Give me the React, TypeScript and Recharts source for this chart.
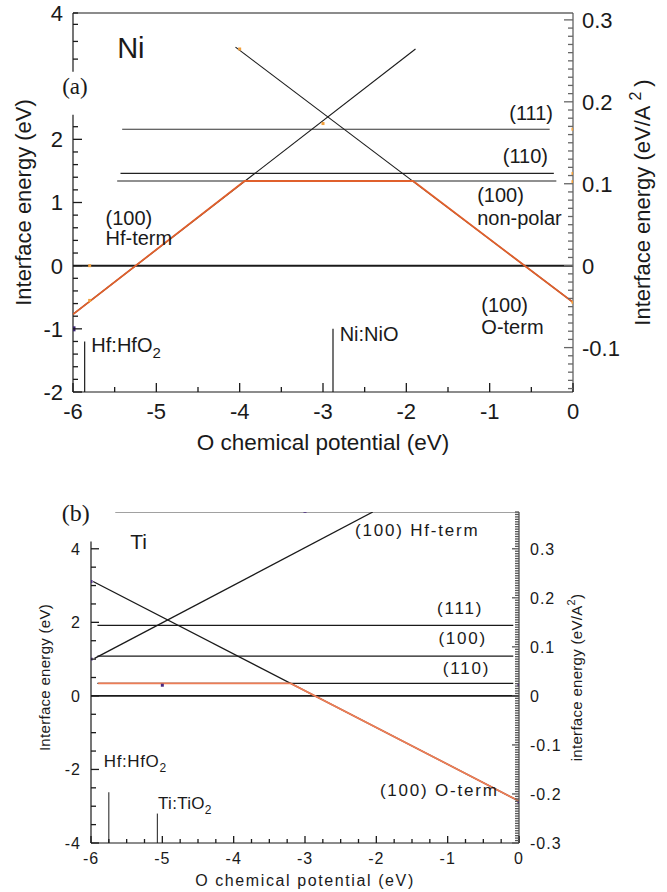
import React from 'react'
import {
  ComposedChart,
  Line,
  Scatter,
  XAxis,
  YAxis,
  ReferenceLine,
  ReferenceDot,
  Label,
} from 'recharts'

const SANS = '"Liberation Sans", Arial, Helvetica, sans-serif'
const SERIF = '"Liberation Serif", "Times New Roman", serif'
const INK = '#1a1a1a'
const ORANGE = '#e0602c'

type Pt = { mu: number; e: number }

// ---- panel (a): Ni ----
const ni111: Pt[] = [{ mu: -5.41, e: 2.16 }, { mu: -0.28, e: 2.16 }]
const ni110: Pt[] = [{ mu: -5.43, e: 1.46 }, { mu: -0.23, e: 1.46 }]
const ni100NonPolar: Pt[] = [{ mu: -5.47, e: 1.34 }, { mu: -0.2, e: 1.34 }]
const niZero: Pt[] = [{ mu: -6, e: 0 }, { mu: 0, e: 0 }]
const niHfTerm: Pt[] = [{ mu: -6, e: -0.77 }, { mu: -1.89, e: 3.43 }]
const niOTerm: Pt[] = [{ mu: -4.05, e: 3.46 }, { mu: 0, e: -0.58 }]
const niStable: Pt[] = [
  { mu: -6, e: -0.77 },
  { mu: -3.94, e: 1.34 },
  { mu: -1.92, e: 1.34 },
  { mu: 0, e: -0.58 },
]
const niHfLimit: Pt[] = [{ mu: -5.86, e: -2 }, { mu: -5.86, e: -1.2 }]
const niNiLimit: Pt[] = [{ mu: -2.88, e: -2 }, { mu: -2.88, e: -1.0 }]
const niDots: Pt[] = [
  { mu: -4.0, e: 3.43 },
  { mu: -3.0, e: 2.25 },
  { mu: -5.8, e: 0 },
  { mu: -5.8, e: -0.55 },
  { mu: 0, e: 2.16 },
  { mu: 0, e: 1.46 },
  { mu: 0, e: 1.33 },
  { mu: 0, e: -0.58 },
]
const niDarkDots: Pt[] = [{ mu: -6, e: -1.0 }]

// ---- panel (b): Ti ----
const tiTop: Pt[] = [{ mu: -5.66, e: 5 }, { mu: 0, e: 5 }]
const ti111: Pt[] = [{ mu: -5.91, e: 1.92 }, { mu: -0.08, e: 1.92 }]
const ti100: Pt[] = [{ mu: -5.91, e: 1.08 }, { mu: -0.08, e: 1.08 }]
const ti110: Pt[] = [{ mu: -5.91, e: 0.34 }, { mu: -0.08, e: 0.34 }]
const tiZero: Pt[] = [{ mu: -6, e: 0 }, { mu: 0, e: 0 }]
const tiHfTerm: Pt[] = [{ mu: -5.95, e: 1.02 }, { mu: -2.05, e: 5.0 }]
const tiOTerm: Pt[] = [{ mu: -5.97, e: 3.11 }, { mu: 0, e: -2.86 }]
const tiStable: Pt[] = [
  { mu: -5.9, e: 0.34 },
  { mu: -3.2, e: 0.34 },
  { mu: 0, e: -2.86 },
]
const tiHfLimit: Pt[] = [{ mu: -5.75, e: -4 }, { mu: -5.75, e: -2.62 }]
const tiTiLimit: Pt[] = [{ mu: -5.07, e: -4 }, { mu: -5.07, e: -3.2 }]
const tiDots: Pt[] = [
  { mu: -6, e: 3.11 },
  { mu: -6, e: 1.0 },
  { mu: -5, e: 0.29 },
  { mu: 0, e: 0.3 },
  { mu: 0, e: -2.9 },
  { mu: -3, e: 5.02 },
]

// tick helpers
const steps = (from: number, to: number, step: number) => {
  const out: number[] = []
  const n = Math.round((to - from) / step)
  for (let i = 0; i <= n; i++) out.push(Math.round((from + i * step) * 10000) / 10000)
  return out
}
const near = (v: number, step: number) => Math.abs(v / step - Math.round(v / step)) < 1e-6

const niMuTicks = steps(-6, 0, 0.5)
const niETicks = [...steps(-2, 2.2, 0.2), 3.27, 3.55, 3.82]
const niELabels = [-2, -1, 0, 1, 2]
const niRightTicks = steps(-0.15, 0.3, 0.01)

const tiMuTicks = steps(-6, 0, 0.25)
const tiETicks = steps(-4, 4, 0.5)
const tiRightTicks = steps(-0.3, 0.375, 0.005)

type TickCfg = {
  side: 'left' | 'right' | 'bottom'
  gap: number
  size: number
  major: number
  minor: number
  isMajor: (v: number) => boolean
  hasLabel: (v: number) => boolean
  spacing?: number
  color?: string
}

// inward tick marks + label, drawn by hand since recharts only draws outward ticks
function makeTick(c: TickCfg) {
  return (props: any) => {
    const x = Number(props.x)
    const y = Number(props.y)
    const v = Number(props.payload.value)
    const len = c.isMajor(v) ? c.major : c.minor
    const label = c.hasLabel(v) ? String(v) : null
    const txt = {
      fontSize: c.size,
      fontFamily: SANS,
      fill: INK,
      letterSpacing: c.spacing || 0,
    }
    let x1 = x
    let x2 = x
    let y1 = y
    let y2 = y
    let anchor = 'middle'
    let dy = '0.36em'
    if (c.side === 'left') {
      x1 = x + c.gap
      x2 = x1 + len
      anchor = 'end'
    } else if (c.side === 'right') {
      x1 = x - c.gap
      x2 = x1 - len
      anchor = 'start'
    } else {
      y1 = y - c.gap
      y2 = y1 - len
      dy = '0.72em'
    }
    return (
      <g>
        <path d={`M${x1},${y1}L${x2},${y2}`} stroke={c.color || INK} strokeWidth={1.3} fill="none" />
        {label && (
          <text x={x} y={y} dy={dy} textAnchor={anchor} {...txt}>
            {label}
          </text>
        )}
      </g>
    )
  }
}

const note =
  (content: React.ReactNode, size: number, extra: any = {}) =>
  (p: any) => (
    <text x={p.cx} y={p.cy} fontSize={size} fontFamily={SANS} fill={INK} {...extra}>
      {content}
    </text>
  )

const vTitle =
  (content: React.ReactNode, size: number, dx: number, spacing = 0) =>
  (props: any) => {
    const vb = props.viewBox || { x: 0, y: 0, width: 0, height: 0 }
    const cx = vb.x + dx
    const cy = vb.y + vb.height / 2
    return (
      <text
        x={cx}
        y={cy}
        transform={`rotate(-90, ${cx}, ${cy})`}
        textAnchor="middle"
        dy="0.36em"
        fontSize={size}
        fontFamily={SANS}
        fill={INK}
        letterSpacing={spacing}
      >
        {content}
      </text>
    )
  }

const hTitle =
  (content: string, size: number, dy: number, spacing = 0) =>
  (props: any) => {
    const vb = props.viewBox || { x: 0, y: 0, width: 0, height: 0 }
    return (
      <text
        x={vb.x + vb.width / 2}
        y={vb.y + dy}
        textAnchor="middle"
        fontSize={size}
        fontFamily={SANS}
        fill={INK}
        letterSpacing={spacing}
      >
        {content}
      </text>
    )
  }

const seg = (id: string, data: Pt[], color = INK, width = 1.2) => (
  <Line
    key={id}
    yAxisId="l"
    data={data}
    dataKey="e"
    type="linear"
    stroke={color}
    strokeWidth={width}
    dot={false}
    activeDot={false}
    isAnimationActive={false}
  />
)

const square = (color: string, s = 3) => (p: any) =>
  <rect x={p.cx - s / 2} y={p.cy - s / 2} width={s} height={s} fill={color} />

function NiPanel() {
  return (
    <ComposedChart width={667} height={470} margin={{ top: 13, right: 0, bottom: 0, left: 0 }}>
      <XAxis
        dataKey="mu"
        type="number"
        domain={[-6, 0]}
        allowDataOverflow
        ticks={niMuTicks}
        interval={0}
        height={78}
        tickSize={0}
        tickMargin={11}
        tickLine={false}
        axisLine={{ stroke: INK, strokeWidth: 1.2 }}
        tick={makeTick({
          side: 'bottom',
          gap: 11,
          size: 22,
          major: 9,
          minor: 5,
          isMajor: (v) => near(v, 1),
          hasLabel: (v) => near(v, 1),
        })}
      >
        <Label content={hTitle('O chemical potential (eV)', 22.5, 58)} />
      </XAxis>
      <YAxis
        yAxisId="l"
        type="number"
        domain={[-2, 4]}
        allowDataOverflow
        ticks={[...niETicks, 4]}
        interval={0}
        width={73}
        tickSize={0}
        tickMargin={10}
        tickLine={false}
        axisLine={false}
        tick={makeTick({
          side: 'left',
          gap: 10,
          size: 22,
          major: 9,
          minor: 5,
          isMajor: (v) => niELabels.includes(v),
          hasLabel: (v) => niELabels.includes(v) || v === 4,
        })}
      >
        <Label content={vTitle('Interface energy (eV)', 22, 23)} />
      </YAxis>
      <YAxis
        yAxisId="r"
        orientation="right"
        type="number"
        domain={[-2 / 12.97, 4 / 12.97]}
        allowDataOverflow
        ticks={niRightTicks}
        interval={0}
        width={94}
        tickSize={0}
        tickMargin={9}
        tickLine={false}
        axisLine={{ stroke: '#555', strokeWidth: 1.2 }}
        tick={makeTick({
          side: 'right',
          gap: 9,
          size: 22,
          major: 9,
          minor: 5,
          isMajor: (v) => near(v, 0.1),
          hasLabel: (v) => near(v, 0.1),
          color: '#666',
        })}
      >
        <Label
          content={vTitle(
            <>
              Interface energy (eV/A
              <tspan dx={5} dy={-9} fontSize={16}>
                2
              </tspan>
              <tspan dx={5} dy={9}>
                )
              </tspan>
            </>,
            22,
            69,
          )}
        />
      </YAxis>

      {/* frame: top edge and broken left axis */}
      <ReferenceLine yAxisId="l" y={4} stroke={INK} strokeWidth={1.2} ifOverflow="visible" />
      <ReferenceLine
        yAxisId="l"
        segment={[{ x: -6, y: -2 }, { x: -6, y: 2.39 }]}
        stroke={INK}
        strokeWidth={1.2}
        ifOverflow="visible"
      />
      <ReferenceLine
        yAxisId="l"
        segment={[{ x: -6, y: 3.07 }, { x: -6, y: 4 }]}
        stroke={INK}
        strokeWidth={1.2}
        ifOverflow="visible"
      />

      {seg('n111', ni111, '#333')}
      {seg('n110', ni110, '#222')}
      {seg('n100', ni100NonPolar, '#222')}
      {seg('nzero', niZero, INK, 2)}
      {seg('nhf', niHfTerm, INK, 1.1)}
      {seg('no', niOTerm, INK, 1.1)}
      {seg('nhfl', niHfLimit, INK, 1.2)}
      {seg('nnil', niNiLimit, INK, 1.2)}
      {seg('nstable', niStable, ORANGE, 1.8)}
      <Scatter yAxisId="l" data={niDots} dataKey="e" shape={square('#f2a03c')} isAnimationActive={false} />
      <Scatter yAxisId="l" data={niDarkDots} dataKey="e" shape={square('#3a2470', 5)} isAnimationActive={false} />

      <ReferenceDot yAxisId="l" x={-5.47} y={3.29} r={0} ifOverflow="visible" shape={note('Ni', 29)} />
      <ReferenceDot
        yAxisId="l"
        x={-6.13}
        y={2.71}
        r={0}
        ifOverflow="visible"
        shape={note('(a)', 23, { fontFamily: SERIF })}
      />
      <ReferenceDot yAxisId="l" x={-0.24} y={2.31} r={0} ifOverflow="visible" shape={note('(111)', 20, { textAnchor: 'end' })} />
      <ReferenceDot yAxisId="l" x={-0.3} y={1.63} r={0} ifOverflow="visible" shape={note('(110)', 20, { textAnchor: 'end' })} />
      <ReferenceDot yAxisId="l" x={-1.15} y={1.01} r={0} ifOverflow="visible" shape={note('(100)', 20)} />
      <ReferenceDot yAxisId="l" x={-1.15} y={0.65} r={0} ifOverflow="visible" shape={note('non-polar', 20)} />
      <ReferenceDot yAxisId="l" x={-5.61} y={0.65} r={0} ifOverflow="visible" shape={note('(100)', 20)} />
      <ReferenceDot yAxisId="l" x={-5.61} y={0.32} r={0} ifOverflow="visible" shape={note('Hf-term', 20)} />
      <ReferenceDot yAxisId="l" x={-1.1} y={-0.73} r={0} ifOverflow="visible" shape={note('(100)', 20)} />
      <ReferenceDot yAxisId="l" x={-1.1} y={-1.08} r={0} ifOverflow="visible" shape={note('O-term', 20)} />
      <ReferenceDot
        yAxisId="l"
        x={-5.78}
        y={-1.36}
        r={0}
        ifOverflow="visible"
        shape={note(
          <>
            Hf:HfO
            <tspan dy={6} fontSize={15}>
              2
            </tspan>
          </>,
          20,
        )}
      />
      <ReferenceDot yAxisId="l" x={-2.8} y={-1.2} r={0} ifOverflow="visible" shape={note('Ni:NiO', 20)} />
    </ComposedChart>
  )
}

function TiPanel() {
  const sp = 1.6
  const nsp = 1.8
  return (
    <ComposedChart width={667} height={442} margin={{ top: 62, right: 0, bottom: 0, left: 0 }}>
      <XAxis
        dataKey="mu"
        type="number"
        domain={[-6, 0]}
        allowDataOverflow
        ticks={tiMuTicks}
        interval={0}
        height={49}
        tickSize={0}
        tickMargin={9}
        tickLine={false}
        axisLine={{ stroke: INK, strokeWidth: 1.2 }}
        tick={makeTick({
          side: 'bottom',
          gap: 9,
          size: 16,
          major: 7,
          minor: 4,
          isMajor: (v) => near(v, 1),
          hasLabel: (v) => near(v, 1),
          spacing: 1,
        })}
      >
        <Label content={hTitle('O chemical potential (eV)', 16, 43, sp)} />
      </XAxis>
      <YAxis
        yAxisId="l"
        type="number"
        domain={[-4, 5]}
        allowDataOverflow
        ticks={tiETicks}
        interval={0}
        width={91}
        tickSize={0}
        tickMargin={10}
        tickLine={false}
        axisLine={false}
        tick={makeTick({
          side: 'left',
          gap: 10,
          size: 16,
          major: 8,
          minor: 5,
          isMajor: (v) => near(v, 2),
          hasLabel: (v) => near(v, 2),
          spacing: 1,
        })}
      >
        <Label content={vTitle('Interface energy (eV)', 15, 45, 0.3)} />
      </YAxis>
      <YAxis
        yAxisId="r"
        orientation="right"
        type="number"
        domain={[-0.3, 0.375]}
        allowDataOverflow
        ticks={tiRightTicks}
        interval={0}
        width={148}
        tickSize={0}
        tickMargin={11}
        tickLine={false}
        axisLine={{ stroke: '#444', strokeWidth: 1.2 }}
        tick={makeTick({
          side: 'right',
          gap: 11,
          size: 16,
          major: 7,
          minor: 4,
          isMajor: (v) => near(v, 0.1),
          hasLabel: (v) => near(v, 0.1) && v <= 0.3,
          spacing: 1,
          color: '#555',
        })}
      >
        <Label
          content={vTitle(
            <>
              interface energy (eV/A
              <tspan dy={-7} fontSize={11}>
                2
              </tspan>
              <tspan dy={7}>)</tspan>
            </>,
            15,
            58,
            0.3,
          )}
        />
      </YAxis>

      <ReferenceLine
        yAxisId="l"
        segment={[{ x: -6, y: -4 }, { x: -6, y: 4.2 }]}
        stroke={INK}
        strokeWidth={1.2}
        ifOverflow="visible"
      />

      {seg('ttop', tiTop, '#444', 1.2)}
      {seg('t111', ti111)}
      {seg('t100', ti100)}
      {seg('t110', ti110)}
      {seg('tzero', tiZero, INK, 1.6)}
      {seg('thf', tiHfTerm, INK, 1.3)}
      {seg('to', tiOTerm, INK, 1.3)}
      {seg('thfl', tiHfLimit, INK, 1)}
      {seg('ttil', tiTiLimit, INK, 1)}
      {seg('tstable', tiStable, '#ee7d55', 1.8)}
      <Scatter yAxisId="l" data={tiDots} dataKey="e" shape={square('#4a2a80')} isAnimationActive={false} />

      <ReferenceDot
        yAxisId="l"
        x={-6.41}
        y={4.76}
        r={0}
        ifOverflow="visible"
        shape={note('(b)', 24, { fontFamily: SERIF })}
      />
      <ReferenceDot yAxisId="l" x={-5.45} y={4.0} r={0} ifOverflow="visible" shape={note('Ti', 21)} />
      <ReferenceDot
        yAxisId="l"
        x={-2.3}
        y={4.35}
        r={0}
        ifOverflow="visible"
        shape={note('(100) Hf-term', 17, { letterSpacing: nsp })}
      />
      <ReferenceDot yAxisId="l" x={-1.15} y={2.23} r={0} ifOverflow="visible" shape={note('(111)', 17, { letterSpacing: nsp })} />
      <ReferenceDot yAxisId="l" x={-1.13} y={1.41} r={0} ifOverflow="visible" shape={note('(100)', 17, { letterSpacing: nsp })} />
      <ReferenceDot yAxisId="l" x={-1.07} y={0.6} r={0} ifOverflow="visible" shape={note('(110)', 17, { letterSpacing: nsp })} />
      <ReferenceDot
        yAxisId="l"
        x={-1.95}
        y={-2.72}
        r={0}
        ifOverflow="visible"
        shape={note('(100) O-term', 17, { letterSpacing: nsp })}
      />
      <ReferenceDot
        yAxisId="l"
        x={-5.82}
        y={-1.93}
        r={0}
        ifOverflow="visible"
        shape={note(
          <>
            Hf:HfO
            <tspan dy={5} fontSize={12}>
              2
            </tspan>
          </>,
          17,
          { letterSpacing: 0.6 },
        )}
      />
      <ReferenceDot
        yAxisId="l"
        x={-5.06}
        y={-3.07}
        r={0}
        ifOverflow="visible"
        shape={note(
          <>
            Ti:TiO
            <tspan dy={5} fontSize={12}>
              2
            </tspan>
          </>,
          17,
          { letterSpacing: 0.3 },
        )}
      />
    </ComposedChart>
  )
}

export default function App() {
  return (
    <div style={{ position: 'absolute', left: 0, top: 0, width: 667, height: 892, background: '#fff' }}>
      <div style={{ position: 'absolute', left: 0, top: 0 }}>
        <NiPanel />
      </div>
      <div style={{ position: 'absolute', left: 0, top: 450 }}>
        <TiPanel />
      </div>
    </div>
  )
}
